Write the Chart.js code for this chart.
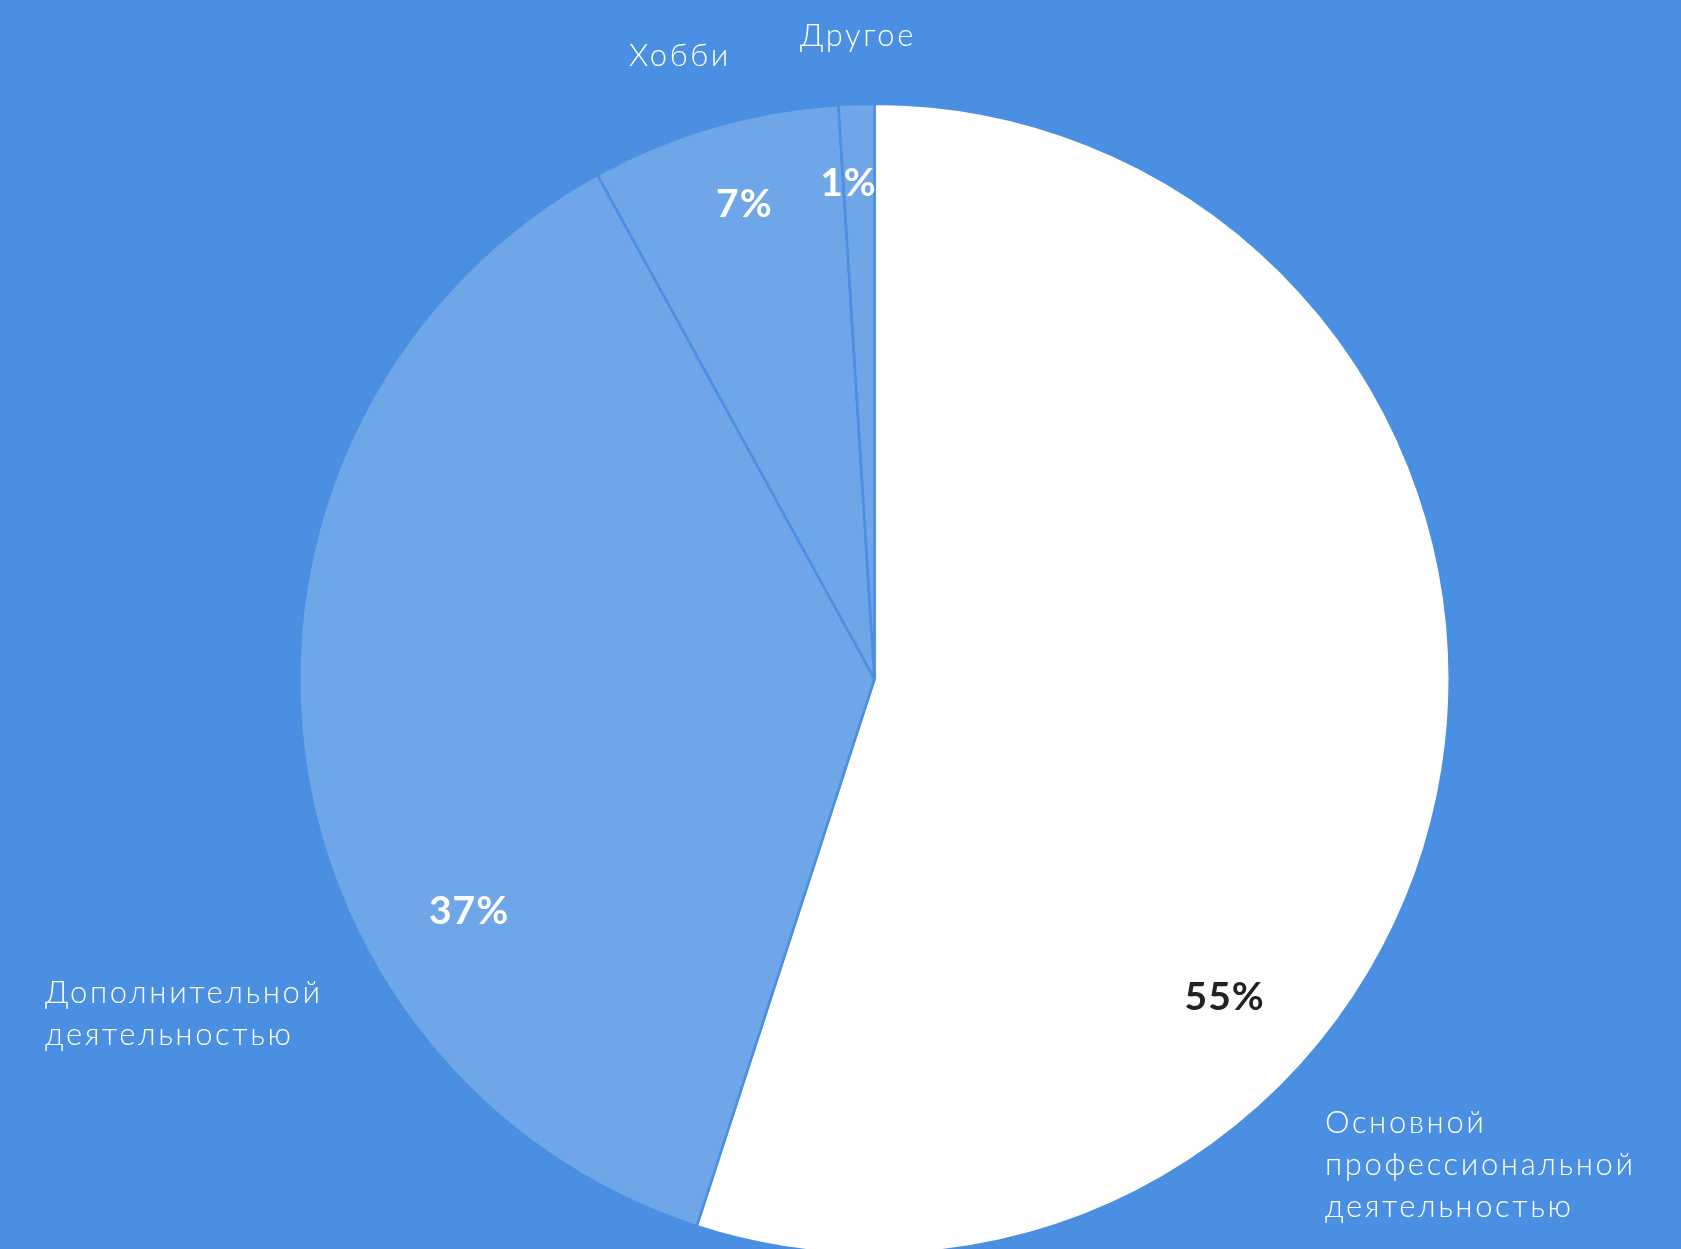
<!DOCTYPE html>
<html lang="ru">
<head>
<meta charset="utf-8">
<title>Распределение по видам деятельности</title>
<script src="https://cdn.jsdelivr.net/npm/chart.js@4.4.1/dist/chart.umd.min.js"></script>
<style>
  html, body { margin: 0; padding: 0; background: #4A8FE2; overflow: hidden; }
  body { width: 1681px; height: 1249px; }
  #wrap { position: relative; width: 1681px; height: 1300px; }
</style>
</head>
<body>
<div id="wrap"><canvas id="pie"></canvas></div>
<script>
// Категории и доли (в процентах)
const categories = ['Основной профессиональной деятельностью', 'Дополнительной деятельностью', 'Хобби', 'Другое'];
const shares = [55, 37, 7, 1];
const valueLabels = ['55%', '37%', '7%', '1%'];

// Оформление секторов
const BG = '#4A8FE2';
const sliceColors = ['#FFFFFF', '#6FA6E7', '#6FA6E7', '#6FA6E7'];
const valueColors = ['#222222', '#FFFFFF', '#FFFFFF', '#FFFFFF'];

// Где внутри сектора ставится подпись значения: доля угла сектора и доля радиуса
const valueAnchor = [
  { t: 0.667, r: 0.82 },
  { t: 0.318, r: 0.811 },
  { t: 0.536, r: 0.858 },
  { t: 0.17,  r: 0.866 }
];

// Подписи категорий снаружи круга (строки, выравнивание, положение)
const nameLayout = [
  { lines: ['Основной', 'профессиональной', 'деятельностью'], x: 1325, y: 1133, align: 'left' },
  { lines: ['Дополнительной', 'деятельностью'], x: 45, y: 1003, align: 'left' },
  { lines: ['Хобби'], x: 680, y: 66, align: 'center' },
  { lines: ['Другое'], x: 858, y: 46, align: 'center' }
];

const labelsPlugin = {
  id: 'sliceLabels',
  afterDatasetsDraw(chart) {
    const ctx = chart.ctx;
    const meta = chart.getDatasetMeta(0);
    ctx.save();
    // значения внутри секторов
    ctx.font = '700 39px Lato, "Open Sans", sans-serif';
    if ('letterSpacing' in ctx) ctx.letterSpacing = '1px';
    ctx.textAlign = 'center';
    ctx.textBaseline = 'middle';
    meta.data.forEach((arc, i) => {
      const p = arc.getProps(['x', 'y', 'startAngle', 'endAngle', 'outerRadius'], true);
      const a = p.startAngle + valueAnchor[i].t * (p.endAngle - p.startAngle);
      const rr = p.outerRadius * valueAnchor[i].r;
      ctx.fillStyle = valueColors[i];
      ctx.fillText(valueLabels[i], p.x + Math.cos(a) * rr, p.y + Math.sin(a) * rr + 2);
    });
    // названия категорий
    ctx.font = '300 31px Lato, "Open Sans", sans-serif';
    if ('letterSpacing' in ctx) ctx.letterSpacing = '2.6px';
    ctx.fillStyle = '#FFFFFF';
    ctx.textBaseline = 'alphabetic';
    nameLayout.forEach(n => {
      ctx.textAlign = n.align;
      n.lines.forEach((line, k) => ctx.fillText(line, n.x, n.y + k * 42));
    });
    ctx.restore();
  }
};

new Chart(document.getElementById('pie'), {
  type: 'pie',
  data: {
    labels: categories,
    datasets: [{
      data: shares,
      backgroundColor: sliceColors,
      borderColor: BG,
      borderWidth: 2.5
    }]
  },
  options: {
    responsive: true,
    maintainAspectRatio: false,
    animation: false,
    layout: { padding: { left: 298, right: 230, top: 102, bottom: 44 } },
    plugins: {
      legend: { display: false },
      tooltip: { enabled: false }
    }
  },
  plugins: [labelsPlugin]
});
</script>
</body>
</html>
